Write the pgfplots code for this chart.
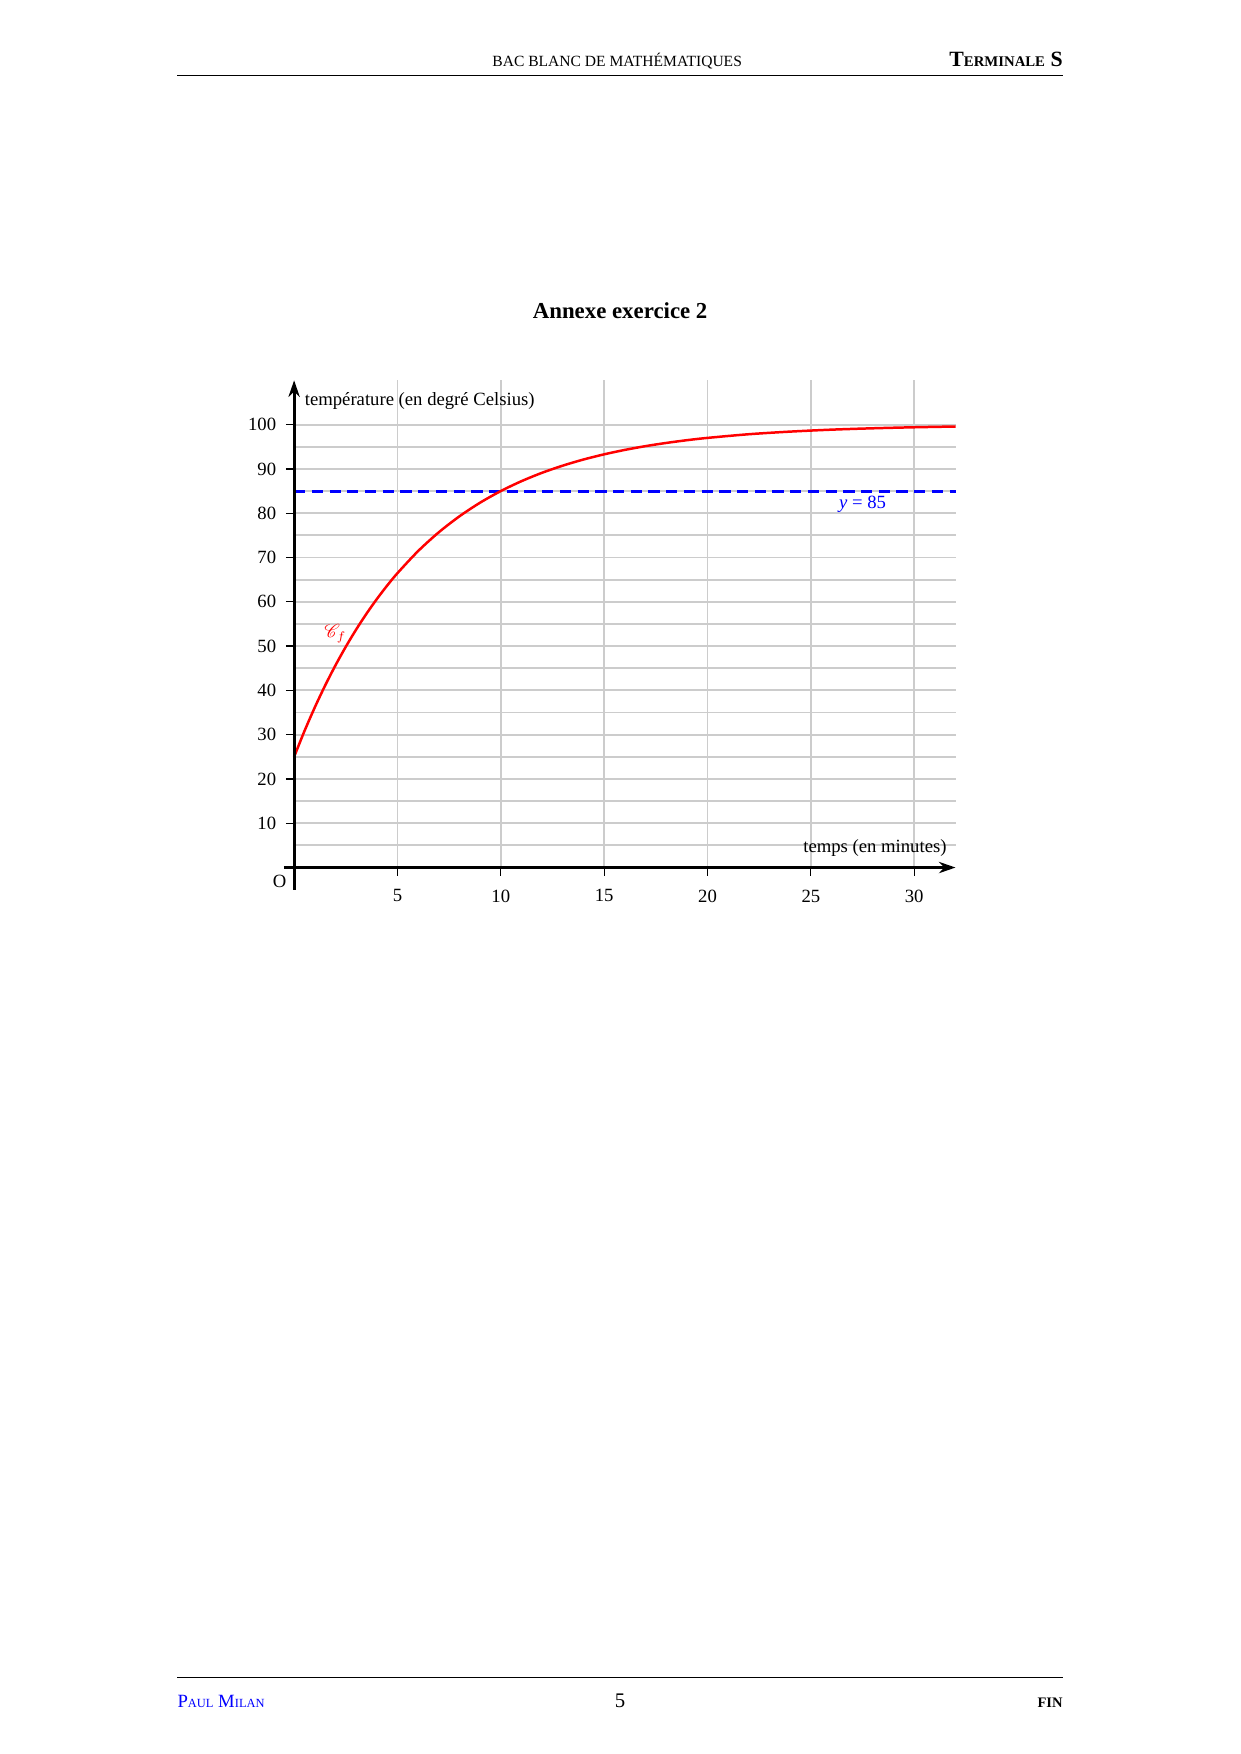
\documentclass[border=0pt]{standalone}
\usepackage{fontspec}
\setmainfont{Liberation Serif}
\usepackage{mathrsfs}
\usepackage{pgfplots}
\pgfplotsset{compat=1.18}
\usetikzlibrary{arrows.meta}

\pgfplotstableread{
t T
0 25.00
0.5 30.80
1 36.15
1.5 41.09
2 45.64
2.5 49.84
3 53.72
3.5 57.30
4 60.60
4.5 63.65
5 66.46
6 71.45
7 75.69
8 79.30
9 82.38
10 85.00
11 87.23
12 89.13
13 90.74
14 92.12
15 93.29
16 94.29
17 95.14
18 95.86
19 96.48
20 97.00
22 97.83
24 98.42
26 98.86
28 99.17
30 99.40
32 99.57
}\curvedata

\begin{document}
\begin{tikzpicture}
\path[use as bounding box] (0,0) rectangle (210mm,297mm);
% header
\node[anchor=base, inner sep=0] at (104.5mm,285.8mm) {\fontsize{7.5}{9}\selectfont BAC BLANC DE MATHÉMATIQUES};
\node[anchor=base east, inner sep=0] at (180mm,285.8mm) {\bfseries\fontsize{10.5}{12}\selectfont T{\fontsize{7.1}{9}\selectfont ERMINALE} S};
\draw[line width=0.4pt] (30mm,284.3mm) -- (180mm,284.3mm);
% footer
\draw[line width=0.4pt] (30mm,13mm) -- (180mm,13mm);
\node[anchor=base west, inner sep=0, text=blue] at (30mm,7.8mm) {\fontsize{9}{11}\selectfont P{\fontsize{6}{8}\selectfont AUL} M{\fontsize{6}{8}\selectfont ILAN}};
\node[anchor=base, inner sep=0] at (105mm,7.8mm) {\fontsize{10}{12}\selectfont 5};
\node[anchor=base east, inner sep=0] at (180mm,7.8mm) {\bfseries\fontsize{7}{9}\selectfont FIN};
% title
\node[anchor=base, inner sep=0] at (105mm,243.1mm) {\bfseries\fontsize{11}{13}\selectfont Annexe exercice 2};

\begin{axis}[
  at={(49.8mm,150.1mm)}, anchor=origin,
  x=3.5mm, y=0.75mm,
  xmin=0, xmax=32, ymin=0, ymax=110,
  axis lines=middle,
  axis on top,
  clip=false,
  x axis line style={line width=1.4pt, -{Stealth[length=2.8mm,width=1.9mm]}, shorten <=-1.75mm},
  y axis line style={line width=1.4pt, -{Stealth[length=2.8mm,width=1.9mm]}, shorten <=-3.75mm},
  xtick={5,10,...,30}, ytick={10,20,...,100},
  tick align=outside,
  major tick length=1.4mm,
  tick style={black, line width=0.6pt},
  tick label style={font=\fontsize{9}{11}\selectfont},
  /pgf/number format/assume math mode=true,
  xticklabel style={anchor=north, yshift=-1.1mm},
  yticklabel style={anchor=east, xshift=-0.4mm},
]
\pgfplotsinvokeforeach{5,10,...,100}{
  \draw[gray!40, line width=0.9pt] (axis cs:0,#1) -- (axis cs:32,#1);
}
\pgfplotsinvokeforeach{5,10,...,30}{
  \draw[gray!40, line width=0.9pt] (axis cs:#1,0) -- (axis cs:#1,110);
}
\addplot[blue, line width=1.4pt, dash pattern=on 1.9mm off 1.1mm] coordinates {(0,85) (32,85)};
\addplot[red, line width=1.2pt, smooth] table[x=t, y=T] {\curvedata};
\node[anchor=west, inner sep=0] at (axis cs:0.5,105.3) {\fontsize{9}{11}\selectfont température (en degré Celsius)};
\node[inner sep=0] at (axis cs:28.1,4.5) {\fontsize{9}{11}\selectfont temps (en minutes)};
\node[inner sep=0, text=blue] at (axis cs:27.5,81.9) {\fontsize{9}{11}\selectfont \textit{y} = 85};
\node[inner sep=0, text=red] at (axis cs:2.0,52.8) {\fontsize{9}{11}\selectfont $\mathscr{C}_f$};
\node[inner sep=0] at (axis cs:-0.7,-3.1) {\fontsize{9}{11}\selectfont O};
\end{axis}
\end{tikzpicture}
\end{document}
